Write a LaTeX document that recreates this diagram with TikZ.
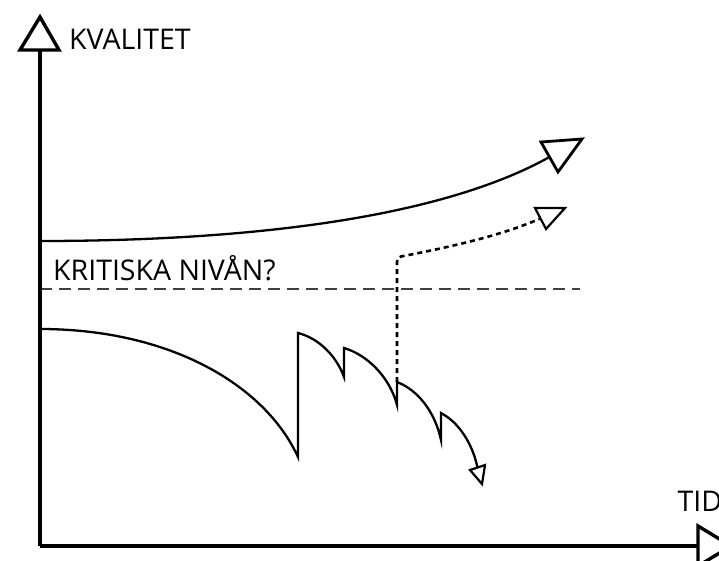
\documentclass[tikz,border=0pt]{standalone}
\usepackage{fontspec}
\setmainfont{Open Sans}
\begin{document}
\begin{tikzpicture}[x=1pt,y=-1pt,
  axisline/.style={line width=4.2pt},
  curve/.style={line width=2.3pt},
  tri/.style={draw=black,fill=white,line width=2.8pt,line join=miter},
  trismall/.style={draw=black,fill=white,line width=2.2pt,line join=miter},
  dottedline/.style={line width=2.6pt,dash pattern=on 5pt off 4pt},
  critline/.style={line width=1.5pt,draw=black!75,dash pattern=on 12pt off 7pt},
  lab/.style={anchor=base west,inner sep=0pt,font=\fontsize{28.5}{32}\selectfont}]
\useasboundingbox (0,0) rectangle (719,560);
% critical level
\draw[critline] (40,289) -- (580,289);
% axes
\coordinate (o) at (40,546);
\coordinate (ytop) at (40,50);
\coordinate (xend) at (698,546);
\draw[axisline] (o) -- (ytop);
\draw[axisline] (o) -- (xend);
\draw[tri,line width=3.4pt] (40,17) -- (59,50) -- (20,50) -- cycle;
\draw[tri,line width=3.4pt] (698,526) -- (731,546) -- (698,566) -- cycle;
% labels
\node[lab] (kv) at (69,49.5) {KVALITET};
\node[lab] (kr) at (53,280) {KRITISKA NIVÅN?};
\node[lab] (tid) at (677.5,511.5) {TID};
% upper curve
\coordinate (u0) at (40,241);
\coordinate (u1) at (549.5,157);
\draw[curve] (u0) .. controls (250,241) and (440,218) .. (u1);
\draw[tri] (541,142) -- (582,139) -- (558,172) -- cycle;
% dotted line
\coordinate (d0) at (397,382);
\coordinate (d1) at (540.5,218.5);
\draw[dottedline] (d0) -- (397,262) .. controls (397,259) and (398,257) .. (401,256.5)
  .. controls (450,247) and (500,236) .. (d1);
\draw[trismall] (535,208) -- (565,208) -- (546,229) -- cycle;
% lower curve
\coordinate (l0) at (40,329);
\coordinate (l1) at (477.5,467.5);
\draw[curve,line join=miter] (l0) .. controls (170,329) and (265,385) .. (298,457)
  -- (298,333) .. controls (318,338) and (336,355) .. (344,377)
  -- (344,348) .. controls (368,355) and (390,378) .. (397,405)
  -- (397,382) .. controls (418,390) and (435,412) .. (441,440)
  -- (441,413) .. controls (458,422) and (472,442) .. (l1);
\draw[trismall] (470,470) -- (485,465) -- (482,484) -- cycle;
\end{tikzpicture}
\end{document}
